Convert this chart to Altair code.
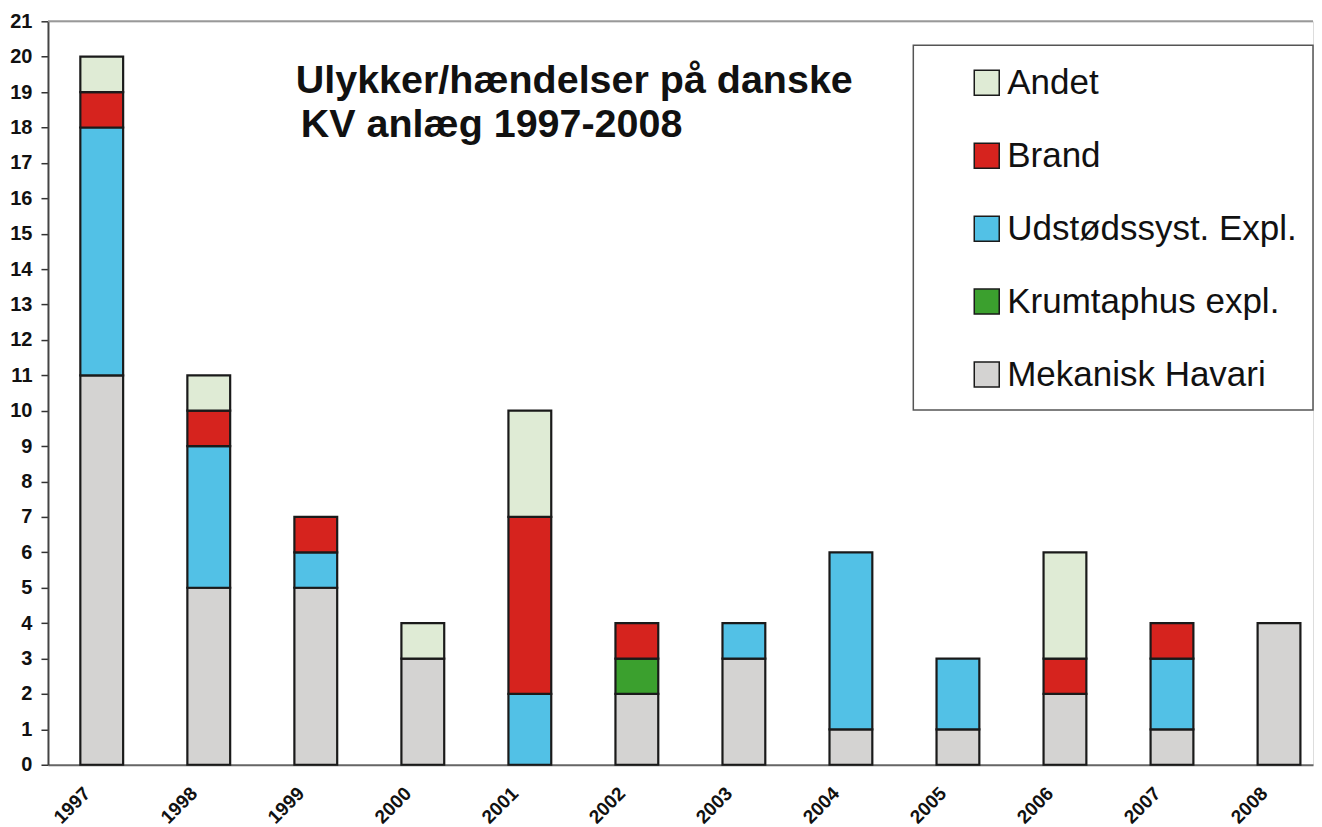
import altair as alt
import pandas as pd

years = ["1997", "1998", "1999", "2000", "2001", "2002", "2003", "2004", "2005", "2006", "2007", "2008"]
mekanisk = [11, 5, 5, 3, 0, 2, 3, 1, 1, 2, 1, 4]
krumtaphus = [0, 0, 0, 0, 0, 1, 0, 0, 0, 0, 0, 0]
udstoed = [7, 4, 1, 0, 2, 0, 1, 5, 2, 0, 2, 0]
brand = [1, 1, 1, 0, 5, 1, 0, 0, 0, 1, 1, 0]
andet = [1, 1, 0, 1, 3, 0, 0, 0, 0, 3, 0, 0]

series_names = ["Mekanisk Havari", "Krumtaphus expl.", "Udstødssyst. Expl.", "Brand", "Andet"]
series_values = [mekanisk, krumtaphus, udstoed, brand, andet]
series_colors = ["#D4D3D2", "#3BA02E", "#52C1E6", "#D6231E", "#DFEBD5"]
legend_order = ["Andet", "Brand", "Udstødssyst. Expl.", "Krumtaphus expl.", "Mekanisk Havari"]
color_map = dict(zip(series_names, series_colors))

rows = []
for i, (name, vals) in enumerate(zip(series_names, series_values)):
    for y, v in zip(years, vals):
        if v > 0:
            rows.append({"year": y, "series": name, "value": v, "order": i})
df = pd.DataFrame(rows)

W, H = 1266, 744
FONT = "Liberation Sans"

xscale = alt.Scale(domain=years, paddingInner=0.6, paddingOuter=0.21, align=0.72)
yscale = alt.Scale(domain=[0, 21], nice=False)

box = alt.Chart(pd.DataFrame({"a": [0]})).mark_rect(
    fill="white", stroke="#555555", strokeWidth=1.5
).encode(
    x=alt.value(866), x2=alt.value(W), y=alt.value(24), y2=alt.value(389)
)

bars = alt.Chart(df).mark_bar(stroke="#1a1a1a", strokeWidth=2.2).encode(
    x=alt.X("year:N", scale=xscale, sort=years,
            axis=alt.Axis(title=None, labelAngle=-45, labelFontSize=19, labelFontWeight="bold",
                          labelColor="#111111", labelFont=FONT, ticks=False, labelPadding=19,
                          labelOffset=-21, domainColor="#666666", domainWidth=2)),
    y=alt.Y("value:Q", stack="zero", scale=yscale,
            axis=alt.Axis(title=None, values=list(range(0, 22)), labelFontSize=20, labelFontWeight="bold",
                          labelColor="#111111", labelFont=FONT, tickSize=7, tickColor="#333333",
                          tickWidth=1.5, labelPadding=9, domainColor="#444444", domainWidth=2,
                          grid=False)),
    color=alt.Color("series:N",
                    scale=alt.Scale(domain=legend_order, range=[color_map[n] for n in legend_order]),
                    sort=legend_order,
                    legend=alt.Legend(title=None, orient="none", legendX=922, legendY=44, padding=0,
                                      symbolType="square", symbolSize=625, symbolStrokeColor="#1a1a1a",
                                      symbolStrokeWidth=1.5, labelFontSize=35, labelFont=FONT,
                                      labelColor="#111111", rowPadding=37, labelOffset=3,
                                      labelLimit=500, symbolOpacity=1)),
    order=alt.Order("order:Q", sort="ascending"),
)

top_rule = alt.Chart(pd.DataFrame({"a": [0]})).mark_rule(color="#999999", strokeWidth=2).encode(
    x=alt.value(0), x2=alt.value(W), y=alt.value(0)
)

title1 = alt.Chart(pd.DataFrame({"t": ["Ulykker/hændelser på danske"]})).mark_text(
    font=FONT, fontSize=39.5, fontWeight="bold", align="left", baseline="alphabetic", color="#111111"
).encode(text="t:N", x=alt.value(248), y=alt.value(72))

title2 = alt.Chart(pd.DataFrame({"t": ["KV anlæg 1997-2008"]})).mark_text(
    font=FONT, fontSize=39.5, fontWeight="bold", align="left", baseline="alphabetic", color="#111111"
).encode(text="t:N", x=alt.value(253), y=alt.value(116))

chart = alt.layer(box, bars, top_rule, title1, title2).properties(
    width=W, height=H, padding={"top": 3, "left": 1, "right": 0, "bottom": 0}
).configure_view(stroke=None).configure(background="white")

chart.save("out.html", embed_options={"renderer": "svg", "actions": False})
